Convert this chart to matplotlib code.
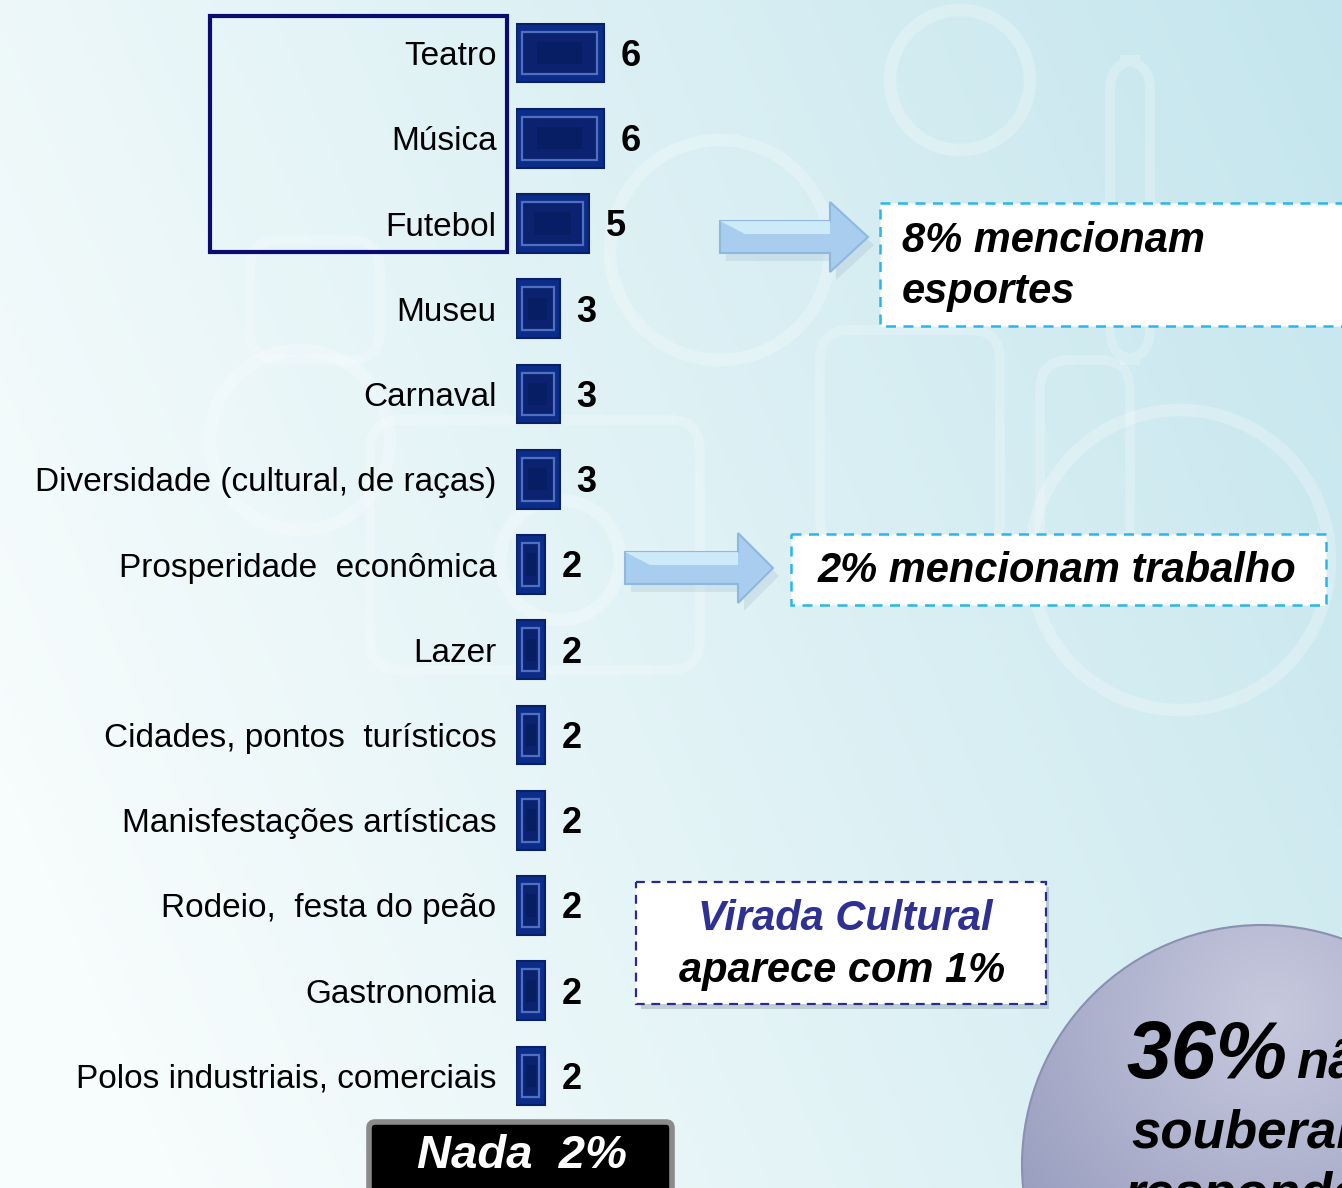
import numpy as np
import matplotlib
matplotlib.use("Agg")
import matplotlib.pyplot as plt
from matplotlib.patches import Rectangle, Polygon, FancyBboxPatch, Circle

plt.rcParams['font.family'] = ['Liberation Sans', 'DejaVu Sans']

# data (% of mentions)
categories = ["Teatro", "Música", "Futebol", "Museu", "Carnaval",
              "Diversidade (cultural, de raças)", "Prosperidade  econômica",
              "Lazer", "Cidades, pontos  turísticos", "Manisfestações artísticas",
              "Rodeio,  festa do peão", "Gastronomia", "Polos industriais, comerciais"]
values = [6, 6, 5, 3, 3, 3, 2, 2, 2, 2, 2, 2, 2]

W, H = 1342, 1188
fig = plt.figure(figsize=(W / 100, H / 100), dpi=100)

# background gradient + faint decoration (pixel coords)
bg = fig.add_axes([0, 0, 1, 1])
bg.set_xlim(0, W)
bg.set_ylim(H, 0)
bg.axis('off')
xx = np.linspace(0, 1, 300)
yy = np.linspace(0, 1, 300)
X, Y = np.meshgrid(xx, yy)
t = np.clip(0.2 + 0.8 * X - 0.3 * Y, 0, 1)
c0 = np.array([0.97, 0.99, 0.99])
c1 = np.array([0.77, 0.90, 0.93])
img = c0[None, None, :] * (1 - t[..., None]) + c1[None, None, :] * t[..., None]
bg.imshow(img, extent=[0, W, H, 0], aspect='auto', zorder=0)
for (cx, cy, r) in [(720, 250, 110), (300, 440, 90), (960, 80, 70), (1180, 560, 150), (560, 560, 60)]:
    bg.add_patch(Circle((cx, cy), r, fill=False, ec='white', lw=9, alpha=0.25, zorder=1))
for (x0, y0, w, h) in [(250, 240, 130, 120), (370, 420, 330, 250), (1110, 60, 40, 300),
                       (820, 330, 180, 220), (1040, 360, 90, 200)]:
    bg.add_patch(FancyBboxPatch((x0, y0), w, h, boxstyle="round,pad=0,rounding_size=30",
                                fill=False, ec='white', lw=7, alpha=0.22, zorder=1))

# bar axes
px_per_unit = 14.6
left_px, top_px, step = 516, 53, 85.25
y = np.arange(len(categories))
ax = fig.add_axes([left_px / W, (H - (top_px + step * 12.5)) / H,
                   (W - left_px) / W, step * 13 / H])
ax.set_xlim(0, (W - left_px) / px_per_unit)
ax.set_ylim(len(categories) - 0.5, -0.5)
ax.patch.set_alpha(0)
for s in ax.spines.values():
    s.set_visible(False)
ax.set_xticks([])
ax.set_yticks(y, categories, fontsize=24)
ax.tick_params(axis='y', length=0, pad=14)

vals = np.array(values, dtype=float)
ax.barh(y, vals, height=0.69, color='#0c2c8a', edgecolor='#082066', lw=1.5, zorder=3)
inset = 0.42
ax.barh(y, vals - 2 * inset, left=inset, height=0.5, color='#0a2270',
        edgecolor='#4f70bc', lw=1.6, zorder=4)
ax.barh(y, (vals - 2 * inset) * 0.6, left=inset + (vals - 2 * inset) * 0.2, height=0.26,
        color='#061a5a', alpha=0.5, lw=0, zorder=4)
for i, v in enumerate(values):
    ax.text(v + 1.15, i + 0.04, str(v), ha='left', va='center', fontsize=26,
            fontweight='bold', color='black', zorder=5)

# overlay in pixel coords for callouts
ov = fig.add_axes([0, 0, 1, 1])
ov.set_xlim(0, W)
ov.set_ylim(H, 0)
ov.axis('off')
ov.patch.set_alpha(0)

ov.add_patch(Rectangle((210, 16), 297, 236, fill=False, ec='#0c0c70', lw=3, zorder=5))


def block_arrow(x0, xb, xt, yc, bh, hh):
    pts = [(x0, yc - bh), (xb, yc - bh), (xb, yc - hh), (xt, yc),
           (xb, yc + hh), (xb, yc + bh), (x0, yc + bh)]
    ov.add_patch(Polygon([(px + 6, py + 8) for px, py in pts], closed=True,
                         fc='#7f9fb8', ec='none', alpha=0.18, zorder=4))
    ov.add_patch(Polygon(pts, closed=True, fc='#a8cdee', ec='#8fb8e0', lw=1.5, zorder=5))
    ov.add_patch(Polygon([(x0, yc - bh), (xb, yc - bh), (xb, yc - 3), (x0 + 25, yc - 3)],
                         closed=True, fc='#d6f2fb', ec='none', alpha=0.8, zorder=6))


block_arrow(720, 830, 868, 237, 16, 35)
block_arrow(625, 738, 773, 568, 16, 35)

# callout boxes
ov.add_patch(Rectangle((880, 203), 480, 123, fc='white', ec='#29b6e8', lw=1.8,
                       ls=(0, (4, 3)), zorder=5))
ov.text(902, 241, "8% mencionam", fontsize=30, fontweight='bold', style='italic',
        ha='left', va='center', zorder=6)
ov.text(902, 292, "esportes", fontsize=30, fontweight='bold', style='italic',
        ha='left', va='center', zorder=6)

ov.add_patch(Rectangle((791, 534), 535, 71, fc='white', ec='#29b6e8', lw=1.8,
                       ls=(0, (4, 3)), zorder=5))
ov.text(1057, 571, "2% mencionam trabalho", fontsize=30, fontweight='bold', style='italic',
        ha='center', va='center', zorder=6)

ov.add_patch(Rectangle((641, 887), 408, 122, fc='#7f8a96', ec='none', alpha=0.35, zorder=4))
ov.add_patch(Rectangle((636, 882), 410, 122, fc='white', ec='#2b2b8c', lw=1.6,
                       ls=(0, (4, 3)), zorder=5))
ov.text(845, 919, "Virada Cultural", fontsize=30, fontweight='bold', style='italic',
        color='#2e3192', ha='center', va='center', zorder=6)
ov.text(842, 971, "aparece com 1%", fontsize=30, fontweight='bold', style='italic',
        color='black', ha='center', va='center', zorder=6)

ov.add_patch(FancyBboxPatch((369, 1122), 303, 90, boxstyle="round,pad=0,rounding_size=6",
                            fc='black', ec='#8a8a8a', lw=4, zorder=5))
ov.text(522, 1156, "Nada  2%", fontsize=34, fontweight='bold', style='italic',
        color='white', ha='center', va='center', zorder=6)

# "não souberam responder" bubble: smooth shading clipped to a circle
cx, cy, R = 1262, 1165, 240
bx = np.linspace(cx - R, cx + R, 200)
by = np.linspace(cy - R, cy + R, 200)
BX, BY = np.meshgrid(bx, by)
d = np.clip(np.hypot(BX - (cx + 10), BY - (cy - 150)) / (R * 1.3), 0, 1)
ca = np.array([0.78, 0.79, 0.87])
cb = np.array([0.60, 0.62, 0.75])
bub = ca[None, None, :] * (1 - d[..., None]) + cb[None, None, :] * d[..., None]
circ = Circle((cx, cy), R, fc='none', ec='#8a90b0', lw=1.5, zorder=5.1)
ov.add_patch(circ)
im = ov.imshow(bub, extent=[cx - R, cx + R, cy + R, cy - R], aspect='auto', zorder=5)
im.set_clip_path(circ)
ov.set_xlim(0, W)
ov.set_ylim(H, 0)
ov.text(1126, 1057, "36%", fontsize=58, fontweight='bold', style='italic',
        ha='left', va='center', zorder=7)
ov.text(1296, 1063, "não", fontsize=38, fontweight='bold', style='italic',
        ha='left', va='center', zorder=7)
ov.text(1131, 1133, "souberam", fontsize=38, fontweight='bold', style='italic',
        ha='left', va='center', zorder=7)
ov.text(1124, 1196, "responder", fontsize=38, fontweight='bold', style='italic',
        ha='left', va='center', zorder=7)

fig.savefig("out.png", dpi=100)
